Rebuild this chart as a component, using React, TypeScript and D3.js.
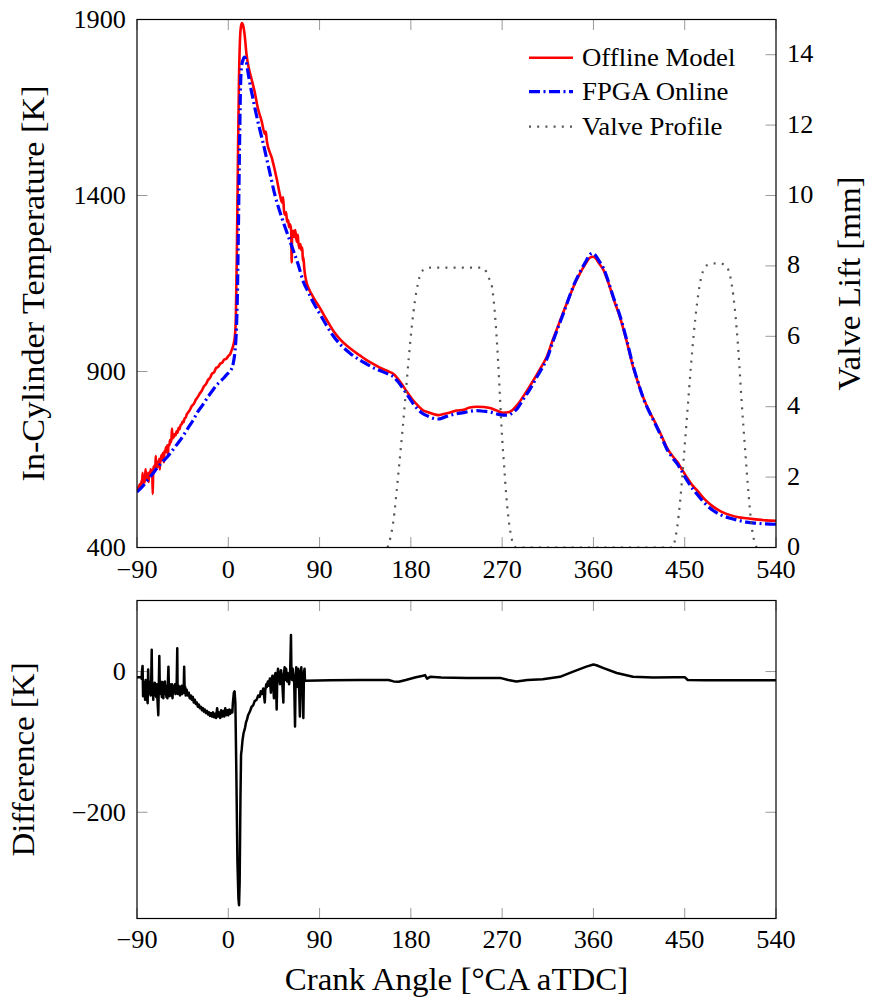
import React from "react";
import * as d3 from "d3";

// ---------- data ----------
const xTicks = [-90, 0, 90, 180, 270, 360, 450, 540];
const tempTicks = [400, 900, 1400, 1900];
const liftTicks = [0, 2, 4, 6, 8, 10, 12, 14];
const diffTicks = [0, -200];

const legendLabels = ["Offline Model", "FPGA Online", "Valve Profile"];

// [crank angle, temperature K]
const offlineModel: [number, number][] = [
  [-90, 565], [-88, 574], [-87, 580], [-86, 570], [-85.5, 590], [-85, 575], [-84.5, 612], [-84, 580], [-83, 600],
  [-82.5, 585], [-82, 603], [-81.5, 622], [-81, 596], [-80, 606], [-79.5, 590], [-79, 612], [-78.5, 586],
  [-78, 612], [-77, 605], [-76.5, 622], [-76, 610], [-75, 618], [-74.5, 552], [-74, 618], [-73.5, 630],
  [-73, 615], [-72.5, 635], [-72, 625], [-71.5, 660], [-71, 630], [-70.5, 642], [-70, 628], [-69, 645],
  [-68.5, 635], [-68, 652], [-67.5, 622], [-67, 652], [-66.5, 645], [-66, 662], [-65, 655], [-64.5, 668],
  [-64, 660], [-63.5, 642], [-63, 675], [-62, 670], [-61.5, 685], [-61, 675], [-60, 690], [-59.5, 662],
  [-59, 692], [-58, 690], [-57.5, 705], [-57, 698], [-56, 708], [-55.5, 738], [-55, 710], [-54.5, 718],
  [-54, 712], [-53, 722], [-52, 718], [-51, 730], [-50, 726], [-49, 740], [-48, 736], [-47, 748], [-46, 750],
  [-45, 758], [-44, 756], [-43, 768], [-42, 768], [-41, 778], [-40, 782], [-38, 790], [-36, 802], [-34, 808],
  [-32, 820], [-30, 828], [-28, 838], [-26, 846], [-24, 858], [-22, 864], [-20, 876], [-18, 882], [-16, 894],
  [-14, 898], [-12, 910], [-10, 913], [-8, 922], [-6, 925], [-4, 934], [-2, 936], [0, 944], [2, 950], [3, 958],
  [5, 975], [6.5, 1000], [7.5, 1060], [8.5, 1250], [9.5, 1500], [10.5, 1720], [11.5, 1840], [12.5, 1880],
  [13.5, 1890], [14.5, 1885], [16, 1860], [18, 1800], [20, 1765], [23, 1730], [26, 1695], [29, 1650], [33, 1610],
  [36, 1575], [37, 1582], [38, 1555], [43, 1506], [48, 1444], [51, 1401], [53, 1380], [54, 1395], [55, 1355],
  [56, 1345], [57, 1352], [58, 1325], [59, 1330], [60, 1310], [61, 1318], [62, 1300], [62.5, 1210], [63, 1295],
  [64, 1300], [65, 1282], [66, 1302], [67, 1278], [68, 1268], [68.5, 1288], [69, 1270], [70, 1250], [71, 1262],
  [72, 1245], [73, 1252], [73.5, 1215], [74, 1225], [75, 1190], [77, 1155], [79, 1138], [84, 1110],
  [90, 1082], [97, 1047], [103, 1018], [110, 992], [120, 966], [130, 945], [136, 933], [145, 918], [150, 910],
  [158, 900], [163, 893], [167, 880], [172, 860], [176, 843], [182, 819], [187, 803], [192, 790], [197, 784],
  [202, 779], [207, 776], [212, 779], [218, 783], [225, 789], [232, 791], [238, 798], [245, 800], [252, 799],
  [258, 796], [264, 790], [271, 783], [276, 784], [280, 790], [285, 805], [291, 830], [297, 857], [303, 885],
  [309, 915], [314, 942], [320, 990], [325, 1028], [330, 1066], [336, 1110], [341, 1145], [347, 1180], [352, 1205],
  [356, 1222], [359, 1226], [362, 1222], [366, 1205], [370, 1188], [375, 1150], [380, 1105], [386, 1056],
  [392, 995], [399, 914], [405, 860], [410, 820], [416, 782], [422, 748], [428, 712], [432, 686], [438, 660],
  [443, 642], [446, 628], [452, 600], [458, 575], [462, 563], [470, 536], [478, 516], [486, 502], [495, 492],
  [503, 486], [511, 483], [520, 480], [530, 477], [540, 476],
];

const fpgaOnline: [number, number][] = [
  [-90, 558], [-85, 572], [-80, 590], [-75, 608], [-70, 626], [-65, 643], [-60, 658], [-55, 676], [-50, 695],
  [-45, 715], [-40, 738], [-35, 760], [-30, 786], [-25, 806], [-20, 828], [-15, 848], [-10, 866], [-5, 880],
  [-2, 890], [1, 898], [3, 906], [5, 925], [6.5, 955], [8, 1020], [9, 1120], [10, 1310], [11, 1520], [12, 1700],
  [13, 1765], [14.5, 1785], [16, 1793], [17.5, 1785], [19, 1758], [21, 1723], [24, 1680], [27, 1638], [30, 1600],
  [34, 1553], [40, 1477], [46, 1401], [53, 1335], [61, 1269], [69, 1203], [74, 1155], [79, 1125], [84, 1095],
  [90, 1065], [97, 1030], [103, 1003], [110, 978], [120, 952], [130, 932], [136, 922], [145, 908], [150, 902],
  [158, 892], [163, 885], [167, 872], [172, 853], [176, 836], [182, 810], [187, 792], [192, 780], [197, 773],
  [202, 767], [207, 765], [212, 769], [218, 775], [225, 780], [232, 783], [238, 787], [245, 789], [252, 787],
  [258, 785], [264, 780], [271, 776], [276, 776], [280, 782], [285, 795], [291, 822], [297, 848], [303, 878],
  [309, 908], [314, 935], [320, 985], [325, 1024], [330, 1062], [336, 1110], [341, 1148], [347, 1184], [352, 1210],
  [356, 1230], [359, 1236], [362, 1230], [366, 1212], [370, 1193], [375, 1153], [380, 1108], [386, 1060],
  [392, 998], [399, 918], [405, 860], [410, 818], [416, 780], [422, 745], [428, 708], [432, 682], [438, 655],
  [443, 636], [446, 622], [452, 592], [458, 566], [462, 552], [470, 525], [478, 505], [486, 492], [495, 483],
  [503, 477], [511, 472], [520, 469], [530, 467], [540, 466],
];

// [crank angle, valve lift mm]
const valveProfile: [number, number][] = [
  [157, 0], [160, 0.3], [163, 0.8], [166, 1.6], [169, 2.5], [172, 3.4], [175, 4.4], [178, 5.4], [181, 6.3],
  [184, 7.0], [187, 7.5], [190, 7.8], [195, 7.93], [200, 7.95], [250, 7.95], [254, 7.85], [257, 7.65],
  [260, 7.4], [263, 6.6], [266, 5.3], [268, 4.2], [270, 3.1], [272, 2.3], [274, 1.5], [276, 0.9], [279, 0.3],
  [282, 0.05], [284, 0], [438, 0], [441, 0.3], [444, 0.9], [447, 1.8], [450, 2.9], [453, 4.0], [456, 5.1],
  [459, 6.1], [462, 6.9], [465, 7.5], [468, 7.85], [472, 8.02], [480, 8.07], [488, 8.05], [492, 7.95],
  [494.5, 7.75], [496.5, 7.45], [499.5, 6.75], [503, 5.55], [506, 4.2], [509.5, 2.8], [513, 1.5], [516, 0.6],
  [519.5, 0.1], [521, 0],
];

// [crank angle, difference K]
const difference: [number, number][] = [
  [-90, -8], [-86, -8], [-85.5, -10], [-85, 2], [-84.5, 8], [-84, -35], [-83.5, -15], [-83, -30], [-82.5, -18],
  [-82, -40], [-81.5, -12], [-81, -28], [-80.5, -15], [-80, -38], [-79.5, -45], [-79, 3], [-78.5, -25],
  [-78, -14], [-77.5, -32], [-77, -20], [-76.5, -34], [-76, -15], [-75.5, 31], [-75, -30], [-74.5, -18],
  [-74, -40], [-73.5, -22], [-73, -34], [-72.5, -16], [-72, -30], [-71.5, -20], [-71, -36], [-70.5, -18],
  [-70, -35], [-69, -62], [-68.5, -20], [-68, 22], [-67.5, -25], [-67, -14], [-66.5, -32], [-66, -20],
  [-65.5, -36], [-65, -15], [-64.5, -30], [-64, -38], [-63.5, -18], [-63, -30], [-62.5, -14], [-62, -32],
  [-61.5, -22], [-61, -36], [-60.5, -20], [-60, -38], [-59.5, -15], [-59, 7], [-58.5, -25], [-58, -35],
  [-57.5, -18], [-57, -30], [-56.5, -22], [-56, -34], [-55.5, -18], [-55, -38], [-54.5, -22], [-54, -30],
  [-53.5, -20], [-53, -28], [-52.5, -18], [-52, -32], [-51.5, -22], [-51, -28], [-50.3, 33], [-50, -25],
  [-49.5, -32], [-49, -20], [-48.5, -30], [-48, -22], [-47.5, -34], [-47, -24], [-46.5, -30], [-46, -20],
  [-45.5, -32], [-45, -24], [-44, -30], [-43.5, 7], [-43, -28], [-42.5, -22], [-42, -34], [-41, -26],
  [-40, -34], [-39, -30], [-38, -38], [-37, -34], [-36, -40], [-35, -36], [-34, -44], [-33, -40], [-32, -46],
  [-31, -44], [-30, -50], [-29, -47], [-28, -52], [-27, -50], [-26, -55], [-25, -52], [-24, -57], [-23, -54],
  [-22, -59], [-21, -56], [-20, -61], [-19, -58], [-18, -63], [-17, -59], [-16, -64], [-15, -58], [-14, -65],
  [-13, -60], [-12, -66], [-11, -52], [-10, -64], [-9, -58], [-8, -66], [-7, -55], [-6, -64], [-5, -56],
  [-4, -64], [-3, -52], [-2, -62], [-1, -55], [0, -62], [1, -54], [2, -60], [3, -55], [4, -58], [4.5, -45],
  [5.5, -30], [6.2, -28], [7, -45], [8, -150], [9, -270], [10, -322], [10.6, -332], [11.2, -300], [12, -180],
  [12.6, -118], [13.2, -111], [14, -98], [15, -88], [16.5, -80], [17.5, -72], [18.5, -68], [19.5, -62],
  [21.5, -56], [23, -50], [24.5, -48], [26, -42], [28, -40], [29.5, -34], [31, -36], [32, -28], [33, -32],
  [34.5, -24], [36, -44], [36.5, -26], [37.5, -18], [38, -22], [39, -14], [40, -20], [41, -10], [42, -30],
  [42.5, -14], [43.5, -6], [44, -12], [45, -38], [45.5, -8], [46.5, -2], [47, -14], [47.7, -54], [48.3, -10],
  [49, 4], [50, -6], [51, -18], [52, 2], [53, -10], [54.3, -44], [54.8, -6], [55.5, 6], [56, -12], [57, 4],
  [58, -14], [58.5, -2], [59, -8], [60, -18], [61, 0], [61.8, 52], [62.3, -6], [63, -12], [63.5, 4], [64, -4],
  [65, -16], [65.8, -78], [66.4, -8], [67, 6], [67.5, -2], [68.5, -22], [69, 4], [69.5, -6], [70.6, -64],
  [71.2, -4], [72, 6], [72.5, -8], [73, -16], [74, -66], [74.6, -2], [75.2, 4], [75.6, -13], [100, -12.5],
  [130, -12], [158, -12], [163, -14], [168, -14.5], [175, -12], [185, -8], [192, -6], [194, -5], [196, -10],
  [199, -7.5], [210, -8.5], [235, -9], [268, -9], [276, -12], [284, -14], [295, -12], [310, -11], [327, -7.5],
  [340, 0], [353, 7], [360, 10], [363, 9], [370, 5], [383, -2], [399, -7.5], [419, -8.5], [440, -8], [450, -8],
  [453, -12], [470, -12.5], [540, -12.5],
];

// ---------- layout ----------
const W = 872;
const H = 1006;
const L = 137;
const R = 776;
const T1 = 19.5;
const B1 = 547.5;
const T2 = 600.5;
const B2 = 918.5;
const FONT = "'Liberation Serif', 'Times New Roman', Times, serif";
const SX = 1.03;
const TICK_FS = 25.5;
const LEGEND_FS = 26;
const LABEL_FS = 32;
const TICK_LEN = 10.5;
const TICK_COLOR = "#9a9a9a";

const fmt = (v: number) => (v < 0 ? "\u2212" + Math.abs(v) : String(v));

function SText(props: {
  x: number;
  y: number;
  text: string;
  anchor?: string;
  size: number;
  rotate?: boolean;
  sx?: number;
}) {
  const { x, y, text, anchor = "start", size, rotate, sx = SX } = props;
  const tr = rotate
    ? `translate(${x},${y}) rotate(-90) scale(${sx},1)`
    : `translate(${x},${y}) scale(${sx},1)`;
  return (
    <text transform={tr} textAnchor={anchor} style={{ fontFamily: FONT }} fontSize={size} fill="#000">
      {text}
    </text>
  );
}

export default function App() {
  const x = d3.scaleLinear().domain([-90, 540]).range([L, R]);
  const yT = d3.scaleLinear().domain([400, 1900]).range([B1, T1]);
  const yV = d3.scaleLinear().domain([0, 15]).range([B1, T1]);
  const yD = d3.scaleLinear().domain([-351, 101]).range([B2, T2]);

  const lineT = d3
    .line<[number, number]>()
    .x((d) => x(d[0]))
    .y((d) => yT(d[1]))
    .curve(d3.curveMonotoneX);
  const lineV = d3
    .line<[number, number]>()
    .x((d) => x(d[0]))
    .y((d) => yV(d[1]))
    .curve(d3.curveMonotoneX);
  const lineD = d3
    .line<[number, number]>()
    .x((d) => x(d[0]))
    .y((d) => yD(d[1]))
    .curve(d3.curveLinear);

  const legendY = [57.7, 91.7, 126.7];
  const legendStyles = [
    { stroke: "#ff0000", width: 2.6, dash: undefined as string | undefined },
    { stroke: "#0000ff", width: 3.2, dash: "11 3.5 2 3.5" },
    { stroke: "#555555", width: 2.2, dash: "2 6.2" },
  ];

  return (
    <svg width={W} height={H} style={{ display: "block", position: "absolute", left: 0, top: 0 }}>
      <defs>
        <clipPath id="clipTop">
          <rect x={L} y={T1} width={R - L} height={B1 - T1} />
        </clipPath>
        <clipPath id="clipBot">
          <rect x={L} y={T2} width={R - L} height={B2 - T2} />
        </clipPath>
      </defs>
      <rect x={0} y={0} width={W} height={H} fill="#fff" />

      {/* ---------- top panel ---------- */}
      <g>
        {xTicks.map((t) => (
          <g key={"xt" + t}>
            <line x1={x(t)} x2={x(t)} y1={B1} y2={B1 - TICK_LEN} stroke={TICK_COLOR} strokeWidth={1} />
            <line x1={x(t)} x2={x(t)} y1={T1} y2={T1 + TICK_LEN} stroke={TICK_COLOR} strokeWidth={1} />
            <SText x={x(t)} y={B1 + 30} text={fmt(t)} anchor="middle" size={TICK_FS} />
          </g>
        ))}
        {tempTicks.map((t) => (
          <g key={"yt" + t}>
            <line x1={L} x2={L + TICK_LEN} y1={yT(t)} y2={yT(t)} stroke={TICK_COLOR} strokeWidth={1} />
            <SText x={L - 11} y={yT(t) + 8.5} text={fmt(t)} anchor="end" size={TICK_FS} />
          </g>
        ))}
        {liftTicks.map((t) => (
          <g key={"vt" + t}>
            <line x1={R} x2={R - TICK_LEN} y1={yV(t)} y2={yV(t)} stroke={TICK_COLOR} strokeWidth={1} />
            <SText x={R + 11} y={yV(t) + 7.5} text={fmt(t)} anchor="start" size={TICK_FS} />
          </g>
        ))}

        <g clipPath="url(#clipTop)">
          <path d={lineT(offlineModel) || ""} fill="none" stroke="#ff0000" strokeWidth={2.6} strokeLinejoin="round" />
          <path
            d={lineT(fpgaOnline) || ""}
            fill="none"
            stroke="#0000ff"
            strokeWidth={3.2}
            strokeDasharray="11 3.5 2 3.5"
          />
          <path
            d={lineV(valveProfile) || ""}
            fill="none"
            stroke="#555555"
            strokeWidth={2.2}
            strokeDasharray="2 6.2"
          />
        </g>

        <rect x={L} y={T1} width={R - L} height={B1 - T1} fill="none" stroke="#000" strokeWidth={1.2} />

        {legendLabels.map((lab, i) => (
          <g key={lab}>
            <line
              x1={529}
              x2={573}
              y1={legendY[i]}
              y2={legendY[i]}
              stroke={legendStyles[i].stroke}
              strokeWidth={legendStyles[i].width}
              strokeDasharray={legendStyles[i].dash}
            />
            <SText x={582} y={legendY[i] + 8.5} text={lab} size={LEGEND_FS} />
          </g>
        ))}

        <SText
          x={44}
          y={(T1 + B1) / 2}
          text="In-Cylinder Temperature [K]"
          anchor="middle"
          size={LABEL_FS}
          rotate
          sx={1.07}
        />
        <SText x={860} y={(T1 + B1) / 2} text="Valve Lift [mm]" anchor="middle" size={LABEL_FS} rotate />
      </g>

      {/* ---------- bottom panel ---------- */}
      <g>
        {xTicks.map((t) => (
          <g key={"bxt" + t}>
            <line x1={x(t)} x2={x(t)} y1={B2} y2={B2 - TICK_LEN} stroke={TICK_COLOR} strokeWidth={1} />
            <line x1={x(t)} x2={x(t)} y1={T2} y2={T2 + TICK_LEN} stroke={TICK_COLOR} strokeWidth={1} />
            <SText x={x(t)} y={B2 + 29} text={fmt(t)} anchor="middle" size={TICK_FS} />
          </g>
        ))}
        {diffTicks.map((t) => (
          <g key={"dt" + t}>
            <line x1={L} x2={L + TICK_LEN} y1={yD(t)} y2={yD(t)} stroke={TICK_COLOR} strokeWidth={1} />
            <line x1={R} x2={R - TICK_LEN} y1={yD(t)} y2={yD(t)} stroke={TICK_COLOR} strokeWidth={1} />
            <SText x={L - 11} y={yD(t) + 8.5} text={fmt(t)} anchor="end" size={TICK_FS} />
          </g>
        ))}
        <g clipPath="url(#clipBot)">
          <path d={lineD(difference) || ""} fill="none" stroke="#000" strokeWidth={2.5} strokeLinejoin="round" />
        </g>
        <rect x={L} y={T2} width={R - L} height={B2 - T2} fill="none" stroke="#000" strokeWidth={1.2} />

        <SText x={34} y={(T2 + B2) / 2} text="Difference [K]" anchor="middle" size={LABEL_FS} rotate />
        <SText x={(L + R) / 2} y={990} text="Crank Angle [°CA aTDC]" anchor="middle" size={LABEL_FS} />
      </g>
    </svg>
  );
}
